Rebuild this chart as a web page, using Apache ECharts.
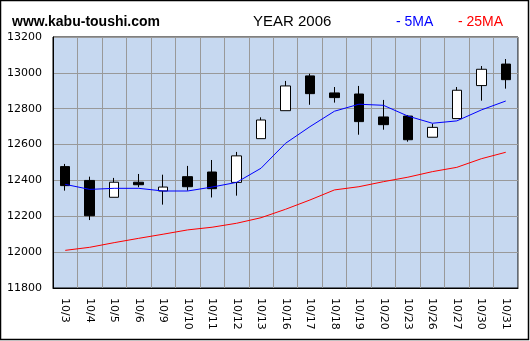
<!DOCTYPE html>
<html>
<head>
<meta charset="utf-8">
<script src="https://cdn.jsdelivr.net/npm/echarts@6/dist/echarts.min.js"></script>
<style>html,body{margin:0;padding:0;background:#fff;}#c{width:530px;height:341px;}</style>
</head>
<body>
<div id="c"></div>
<script>
const categories = ['10/3','10/4','10/5','10/6','10/9','10/10','10/11','10/12','10/13','10/16','10/17','10/18','10/19','10/20','10/23','10/26','10/27','10/30','10/31'];
const openV  = [12477,12400,12306,12390,12341,12421,12447,12389,12633,12789,12983,12888,12882,12754,12759,12641,12745,12929,13049];
const closeV = [12371,12203,12390,12376,12363,12365,12354,12537,12737,12927,12884,12862,12728,12711,12627,12696,12903,13020,12962];
const lowV   = [12343,12179,12306,12362,12265,12343,12305,12315,12633,12789,12822,12834,12655,12683,12616,12641,12745,12845,12912];
const highV  = [12492,12421,12414,12436,12432,12481,12514,12559,12752,12955,12995,12921,12927,12849,12765,12716,12921,13038,13077];
const ma5    = [12378,12350,12356,12356,12341,12341,12363,12389,12468,12607,12700,12786,12825,12819,12759,12719,12732,12793,12843];
const ma25   = [12010,12027,12053,12077,12100,12124,12139,12161,12192,12239,12291,12347,12365,12393,12418,12449,12473,12521,12557];
const yTicks = {min: 11800, max: 13200, interval: 200};

const candleData = categories.map((c, i) => [openV[i], closeV[i], lowV[i], highV[i]]);
const chart = echarts.init(document.getElementById('c'), null, {renderer: 'canvas'});
chart.setOption({
  animation: false,
  backgroundColor: '#fff',
  title: [
    {text: 'www.kabu-toushi.com', left: 7, top: 10, textStyle: {fontFamily: 'Liberation Sans', fontWeight: 'bold', fontSize: 14, color: '#000'}},
    {text: 'YEAR 2006', left: 248, top: 9, textStyle: {fontFamily: 'Liberation Sans', fontWeight: 'normal', fontSize: 15, color: '#000'}},
    {text: '- 5MA', left: 391, top: 10, textStyle: {fontFamily: 'Liberation Sans', fontWeight: 'normal', fontSize: 14, color: '#0000ff'}},
    {text: '- 25MA', left: 453, top: 10, textStyle: {fontFamily: 'Liberation Sans', fontWeight: 'normal', fontSize: 14, color: '#ff0000'}}
  ],
  graphic: [
    {type: 'rect', shape: {x: 0.5, y: 0.5, width: 528, height: 339}, style: {fill: null, stroke: '#000', lineWidth: 1.5}, silent: true}
  ],
  grid: {left: 53, right: 12, top: 37, bottom: 53, show: true, backgroundColor: '#c6d8f0', borderColor: '#000', borderWidth: 1},
  xAxis: {
    type: 'category', data: categories, boundaryGap: true,
    axisLine: {lineStyle: {color: '#000', width: 1}},
    axisTick: {show: false},
    splitLine: {show: true, interval: 0, lineStyle: {color: '#999', width: 1}},
    axisLabel: {interval: 0, rotate: -90, margin: 10, fontFamily: 'DejaVu Sans', fontSize: 11, color: '#000'}
  },
  yAxis: {
    type: 'value', min: yTicks.min, max: yTicks.max, interval: yTicks.interval,
    axisLine: {show: true, lineStyle: {color: '#000', width: 1}},
    axisTick: {show: false},
    splitLine: {show: true, lineStyle: {color: '#999', width: 1}},
    axisLabel: {margin: 11, fontFamily: 'DejaVu Sans', fontSize: 11, color: '#000', formatter: v => String(v)}
  },
  series: [
    {type: 'candlestick', data: candleData, barWidth: 10,
     itemStyle: {color: '#fff', color0: '#000', borderColor: '#000', borderColor0: '#000', borderWidth: 1}},
    {type: 'line', data: ma5, symbol: 'none', lineStyle: {color: '#0000ff', width: 1}, z: 3},
    {type: 'line', data: ma25, symbol: 'none', lineStyle: {color: '#ff0000', width: 1}, z: 3}
  ]
});
</script>
</body>
</html>
